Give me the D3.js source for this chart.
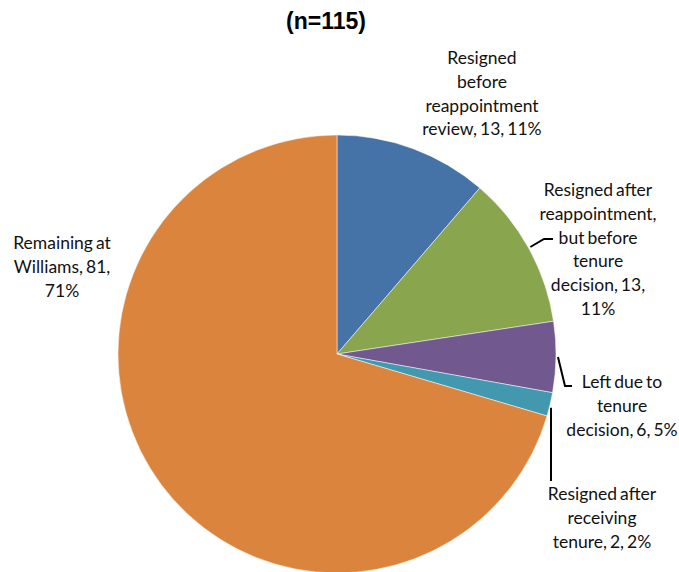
<!DOCTYPE html>
<html>
<head>
<meta charset="utf-8">
<script src="https://cdn.jsdelivr.net/npm/d3@7"></script>
<style>
  html, body { margin: 0; padding: 0; background: #fff; }
  svg { display: block; }
</style>
</head>
<body>
<svg id="chart" width="679" height="572"></svg>
<script>
// Faculty outcomes, clockwise from 12 o'clock
const categories = [
  "Resigned before reappointment review",
  "Resigned after reappointment, but before tenure decision",
  "Left due to tenure decision",
  "Resigned after receiving tenure",
  "Remaining at Williams"
];
const counts = [13, 13, 6, 2, 81];
const percents = ["11%", "11%", "5%", "2%", "71%"];
const colors = ["#4572A7", "#89A54E", "#71588F", "#4198AF", "#DB843D"];

// Label lines, in the same order
const labelLines = [
  ["Resigned", "before", "reappointment", "review, 13, 11%"],
  ["Resigned after", "reappointment,", "but before", "tenure", "decision, 13,", "11%"],
  ["Left due to", "tenure", "decision, 6, 5%"],
  ["Resigned after", "receiving", "tenure, 2, 2%"],
  ["Remaining at", "Williams, 81,", "71%"]
];
const labelAnchors = [[482, 58], [598, 190], [622, 382], [602, 494], [62, 243]];

const svg = d3.select("#chart");
const cx = 337, cy = 354, r = 219;

svg.append("text")
  .attr("x", 326).attr("y", 29)
  .attr("text-anchor", "middle")
  .style("font-family", "Liberation Sans, Arial, sans-serif")
  .style("font-weight", "bold")
  .style("font-size", "23px")
  .text("(n=115)");

const pie = d3.pie().sort(null).value(d => d)(counts);
const arc = d3.arc().innerRadius(0).outerRadius(r);

const g = svg.append("g").attr("transform", `translate(${cx},${cy})`);
g.selectAll("path").data(pie).join("path")
  .attr("d", arc)
  .attr("fill", (d, i) => colors[i])
  .attr("stroke", "#fff")
  .attr("stroke-width", 0.5);

// Leader lines from slice edges to their labels
const pt = (a, rad) => [cx + rad * Math.sin(a), cy - rad * Math.cos(a)];
function midAngle(d) { return (d.startAngle + d.endAngle) / 2; }
const leaders = [
  null,
  { slice: 1, pts: (p) => [p, [544, 239], [553, 239]] },
  { slice: 2, pts: (p) => [p, [565, 386], [572, 386]] },
  { slice: 3, pts: (p) => [[551, p[1] + 3], [551, 481]] },
  null
];
leaders.forEach(L => {
  if (!L) return;
  const p = pt(midAngle(pie[L.slice]), r + 2);
  svg.append("path")
    .attr("d", d3.line()(L.pts(p)))
    .attr("fill", "none")
    .attr("stroke", "#000")
    .attr("stroke-width", 2);
});

labelLines.forEach((lines, i) => {
  const t = svg.append("text")
    .attr("text-anchor", "middle")
    .style("font-family", "Lato, 'Open Sans', sans-serif")
    .style("font-size", "17.5px")
    .style("word-spacing", "-1.5px")
    .attr("fill", "#111");
  lines.forEach((s, k) => {
    t.append("tspan")
      .attr("x", labelAnchors[i][0])
      .attr("y", labelAnchors[i][1] + k * 23.8 + 6)
      .text(s);
  });
});
</script>
</body>
</html>
